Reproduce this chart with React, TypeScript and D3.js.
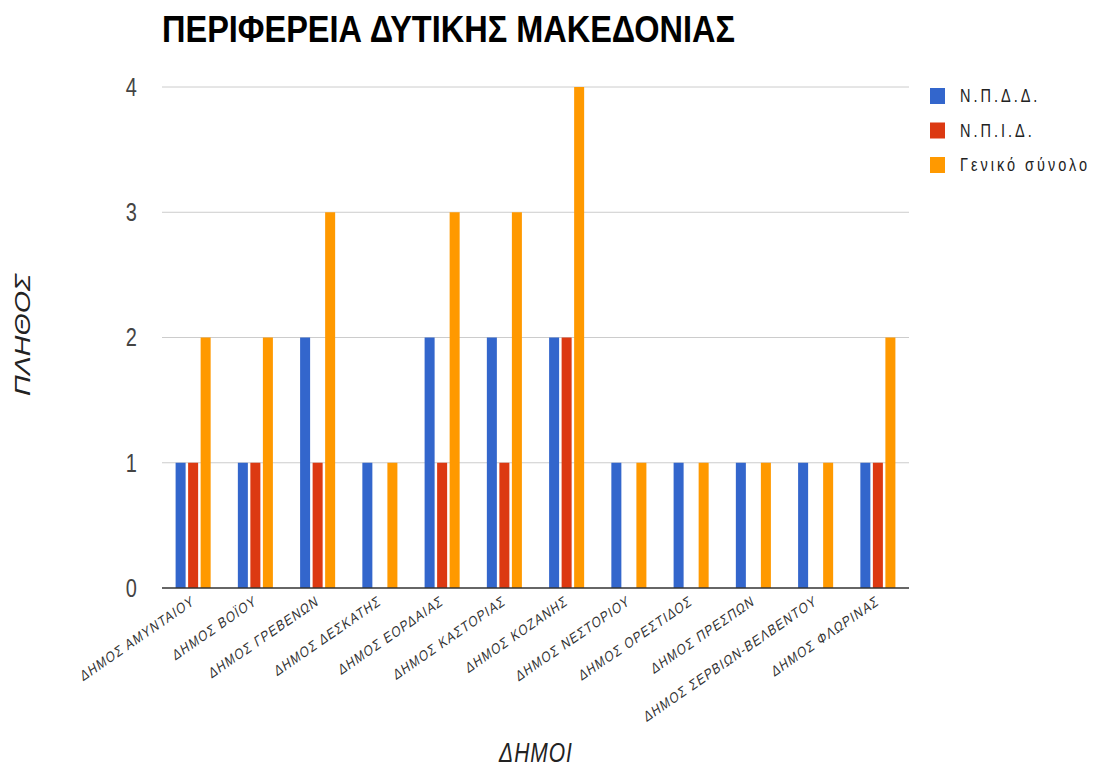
import React from 'react';
import * as d3 from 'd3';

const municipalities = [
  'ΔΗΜΟΣ ΑΜΥΝΤΑΙΟΥ',
  'ΔΗΜΟΣ ΒΟΪΟΥ',
  'ΔΗΜΟΣ ΓΡΕΒΕΝΩΝ',
  'ΔΗΜΟΣ ΔΕΣΚΑΤΗΣ',
  'ΔΗΜΟΣ ΕΟΡΔΑΙΑΣ',
  'ΔΗΜΟΣ ΚΑΣΤΟΡΙΑΣ',
  'ΔΗΜΟΣ ΚΟΖΑΝΗΣ',
  'ΔΗΜΟΣ ΝΕΣΤΟΡΙΟΥ',
  'ΔΗΜΟΣ ΟΡΕΣΤΙΔΟΣ',
  'ΔΗΜΟΣ ΠΡΕΣΠΩΝ',
  'ΔΗΜΟΣ ΣΕΡΒΙΩΝ-ΒΕΛΒΕΝΤΟΥ',
  'ΔΗΜΟΣ ΦΛΩΡΙΝΑΣ',
];

const seriesNames = ['Ν.Π.Δ.Δ.', 'Ν.Π.Ι.Δ.', 'Γενικό σύνολο'];
const npdd = [1, 1, 2, 1, 2, 2, 2, 1, 1, 1, 1, 1];
const npid = [1, 1, 1, 0, 1, 1, 2, 0, 0, 0, 0, 1];
const total = [2, 2, 3, 1, 3, 3, 4, 1, 1, 1, 1, 2];
const yTicks = [0, 1, 2, 3, 4];
const colors = ['#3366cc', '#dc3912', '#ff9900'];

const W = 1096;
const H = 769;
const FONT = "'Liberation Sans', Arial, sans-serif";
const SY = 1.3; // the picture is stretched vertically

export default function App() {
  const series = [npdd, npid, total];
  const left = 162;
  const right = 909;
  const top = 87;
  const bottom = 588;

  const x0 = d3.scaleBand<string>().domain(municipalities).range([left, right])
    .paddingInner(0.437).paddingOuter(0.2185);
  const x1 = d3.scaleBand<number>().domain([0, 1, 2]).range([0, x0.bandwidth()])
    .paddingInner(0.2).paddingOuter(0);
  const y = d3.scaleLinear().domain([0, 4]).range([bottom, top]);

  return (
    <svg width={W} height={H} style={{ position: 'absolute', left: 0, top: 0, background: '#fff' }}
      fontFamily={FONT}>
      <text transform={`translate(162,42) scale(1,${SY})`} fontSize={28} fontWeight="bold" fill="#000"
        textLength={573} lengthAdjust="spacingAndGlyphs">
        ΠΕΡΙΦΕΡΕΙΑ ΔΥΤΙΚΗΣ ΜΑΚΕΔΟΝΙΑΣ
      </text>

      {yTicks.map((t) => (
        <g key={t}>
          {t > 0 && (
            <line x1={left} x2={right} y1={y(t)} y2={y(t)} stroke="#cccccc" strokeWidth={1} />
          )}
          <text transform={`translate(137,${y(t)}) scale(1,${SY})`} textAnchor="end"
            dominantBaseline="central" fontSize={20} fill="#444">
            {t}
          </text>
        </g>
      ))}

      {municipalities.map((m, i) => (
        <g key={m} transform={`translate(${x0(m)},0)`}>
          {series.map((s, k) => (
            <rect key={k} x={x1(k)} width={x1.bandwidth()} y={y(s[i])}
              height={bottom - y(s[i])} fill={colors[k]} />
          ))}
        </g>
      ))}

      <line x1={left} x2={right} y1={bottom} y2={bottom} stroke="#333" strokeWidth={1.5} />

      {municipalities.map((m) => {
        const cx = (x0(m) as number) + x0.bandwidth() / 2 + 2;
        return (
          <text key={m} transform={`translate(${cx},${bottom + 16}) scale(1,${SY}) rotate(-28)`}
            textAnchor="end" fontSize={11.5} letterSpacing={1.1} fill="#333">
            {m}
          </text>
        );
      })}

      <text transform={`translate(30,335) scale(1,${SY}) rotate(-90)`} textAnchor="middle"
        fontSize={22} fontStyle="italic" fill="#222">
        ΠΛΗΘΟΣ
      </text>
      <text transform={`translate(536,762) scale(1,${SY})`} textAnchor="middle"
        fontSize={21} fontStyle="italic" fill="#222" letterSpacing={1}>
        ΔΗΜΟΙ
      </text>

      {seriesNames.map((n, k) => (
        <g key={n} transform={`translate(930,${88 + k * 34.5})`}>
          <rect width={15} height={16} fill={colors[k]} />
          <text transform={`translate(30,8) scale(1,${SY})`} dominantBaseline="central"
            fontSize={14.5} letterSpacing={3} fill="#222">
            {n}
          </text>
        </g>
      ))}
    </svg>
  );
}
